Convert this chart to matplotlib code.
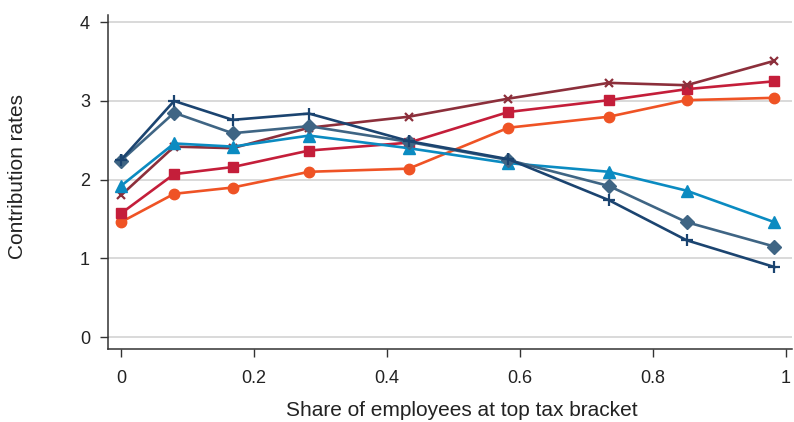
import matplotlib

matplotlib.use("Agg")

import matplotlib.pyplot as plt

plt.rcParams["font.family"] = ["Liberation Sans", "DejaVu Sans"]

# share of employees at top tax bracket (bin positions)
share = [0.0, 0.080, 0.168, 0.283, 0.433, 0.583, 0.734, 0.851, 0.983]

# contribution rates per group
rate_circle = [1.46, 1.82, 1.90, 2.10, 2.14, 2.66, 2.80, 3.01, 3.04]
rate_square = [1.57, 2.07, 2.16, 2.37, 2.47, 2.86, 3.01, 3.15, 3.25]
rate_cross = [1.80, 2.42, 2.40, 2.66, 2.80, 3.03, 3.23, 3.20, 3.51]
rate_triangle = [1.92, 2.46, 2.42, 2.56, 2.40, 2.21, 2.10, 1.86, 1.46]
rate_diamond = [2.24, 2.85, 2.59, 2.68, 2.48, 2.25, 1.92, 1.46, 1.15]
rate_plus = [2.25, 3.00, 2.76, 2.84, 2.49, 2.26, 1.74, 1.23, 0.89]

x_ticks = [0, 0.2, 0.4, 0.6, 0.8, 1]
x_tick_labels = ["0", "0.2", "0.4", "0.6", "0.8", "1"]
y_ticks = [0, 1, 2, 3, 4]

series = [
    (rate_circle, "o", "#EF5325", 7.5, 1.0),
    (rate_square, "s", "#C41E3A", 7.5, 1.0),
    (rate_cross, "x", "#8C2F3B", 5.5, 1.6),
    (rate_triangle, "^", "#0B8BC1", 8.0, 1.0),
    (rate_diamond, "D", "#3F6584", 7.0, 1.0),
    (rate_plus, "+", "#1B4470", 8.0, 1.6),
]

fig = plt.figure(figsize=(7.94, 4.22), dpi=100)
ax = fig.add_axes([0.136, 0.173, 0.861, 0.791])

for values, marker, color, size, mew in series:
    ax.plot(share, values, color=color, linewidth=1.9, marker=marker,
            markersize=size, markeredgewidth=mew, markeredgecolor=color,
            markerfacecolor=color, clip_on=False)

ax.set_xlim(-0.0195, 1.009)
ax.set_ylim(-0.152, 4.09)
ax.set_xticks(x_ticks)
ax.set_xticklabels(x_tick_labels)
ax.set_yticks(y_ticks)

ax.yaxis.grid(True, color="#d0d0d0", linewidth=1.1)
ax.set_axisbelow(True)

for side in ("top", "right"):
    ax.spines[side].set_visible(False)
for side in ("left", "bottom"):
    ax.spines[side].set_color("#333333")
    ax.spines[side].set_linewidth(1.1)

ax.tick_params(axis="both", direction="out", length=6, width=1.0,
               color="#333333", labelsize=13, labelcolor="#222222")
ax.tick_params(axis="x", pad=9)
ax.tick_params(axis="y", pad=7)

ax.set_xlabel("Share of employees at top tax bracket", fontsize=15,
              color="#222222")
ax.set_ylabel("Contribution rates", fontsize=15, color="#222222")
ax.xaxis.set_label_coords(0.518, -0.155)
ax.yaxis.set_label_coords(-0.119, 0.518)

fig.savefig("out.png", dpi=100)
plt.close(fig)
